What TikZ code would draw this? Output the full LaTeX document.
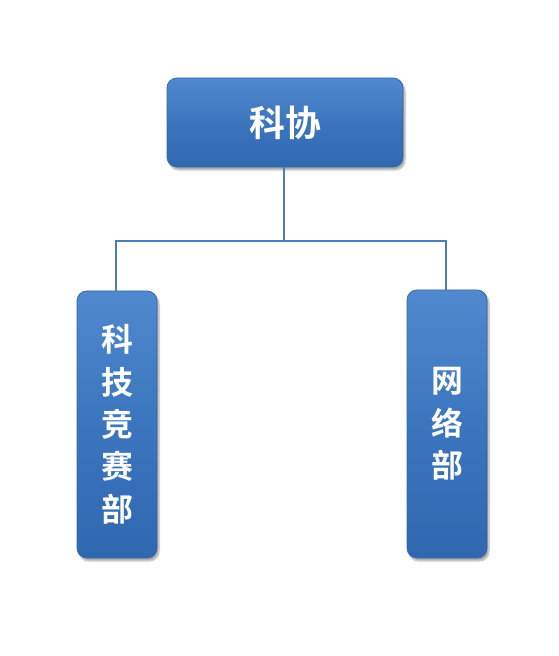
\documentclass[tikz,border=0pt]{standalone}
\usepackage{fontspec}
\newfontfamily\cjk{Noto Sans CJK SC Bold}
\usetikzlibrary{shadows.blur}
\definecolor{boxtop}{HTML}{5089CE}
\definecolor{boxmid}{HTML}{3B75BD}
\definecolor{boxbot}{HTML}{3068B0}
\definecolor{boxedge}{HTML}{3068AE}
\definecolor{linkc}{HTML}{4A7EBB}
\tikzset{
  orgbox/.style={draw=boxedge, line width=0.8bp, rounded corners=10bp,
    top color=boxtop, bottom color=boxbot, middle color=boxmid,
    text=white, inner sep=0pt, align=center,
    blur shadow={shadow xshift=2bp, shadow yshift=-3bp, shadow blur steps=6, shadow opacity=35}},
  link/.style={draw=linkc, line width=1.8bp},
}
\begin{document}
\begin{tikzpicture}[x=1bp,y=1bp]
\useasboundingbox (0,0) rectangle (559,656);
\node[orgbox, minimum width=236bp, minimum height=89bp, font=\cjk\fontsize{36}{40}\selectfont]
  (top) at (285,{656-122.5}) {科协};
\node[orgbox, minimum width=80bp, minimum height=267bp, font=\cjk\fontsize{32}{42.5}\selectfont]
  (left) at (117,{656-424.5}) {科\\技\\竞\\赛\\部};
\node[orgbox, minimum width=80bp, minimum height=268bp, font=\cjk\fontsize{32}{42.5}\selectfont]
  (right) at (447,{656-424}) {网\\络\\部};
\coordinate (hub) at (284,{656-241});
\coordinate (lc) at (116,{656-241});
\coordinate (rc) at (446,{656-241});
\draw[link] (top.south -| hub) -- (hub) -- (lc) -- (lc |- left.north);
\draw[link] (hub) -- (rc) -- (rc |- right.north);
\end{tikzpicture}
\end{document}
